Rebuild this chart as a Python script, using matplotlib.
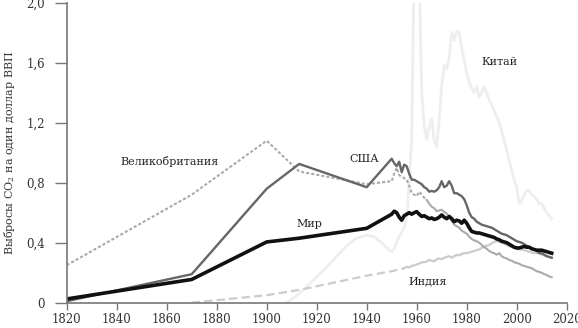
import matplotlib
matplotlib.use("Agg")
import matplotlib.pyplot as plt

plt.rcParams['font.family'] = ['DejaVu Serif']
plt.rcParams['mathtext.fontset'] = 'dejavuserif'
plt.rcParams['lines.scale_dashes'] = False

# ---- data ----
world_years = [1820, 1870, 1900, 1913, 1940] + list(range(1950, 2015))
world_vals = [0.025, 0.155, 0.405, 0.43, 0.496,
              0.59, 0.61, 0.60, 0.57, 0.55, 0.58, 0.59, 0.60, 0.59, 0.60,
              0.607, 0.59, 0.575, 0.58, 0.57, 0.56, 0.565, 0.555, 0.56, 0.57,
              0.585, 0.57, 0.56, 0.575, 0.56, 0.54, 0.55, 0.545, 0.53, 0.55,
              0.53, 0.50, 0.475, 0.47, 0.465, 0.465, 0.46, 0.455, 0.45, 0.445,
              0.44, 0.435, 0.425, 0.42, 0.41, 0.405, 0.40, 0.39, 0.38, 0.37,
              0.365, 0.365, 0.37, 0.375, 0.37, 0.37, 0.36, 0.355, 0.35, 0.35,
              0.35, 0.345, 0.34, 0.335, 0.33]

usa_years = [1820, 1870, 1900, 1913, 1940] + list(range(1950, 2015))
usa_vals = [0.01, 0.19, 0.76, 0.925, 0.77,
            0.96, 0.93, 0.91, 0.94, 0.87, 0.92, 0.91, 0.86, 0.82, 0.82,
            0.81, 0.80, 0.79, 0.77, 0.76, 0.74, 0.745, 0.74, 0.75, 0.77,
            0.81, 0.77, 0.78, 0.81, 0.78, 0.73, 0.73, 0.72, 0.71, 0.69,
            0.65, 0.60, 0.57, 0.56, 0.54, 0.53, 0.52, 0.515, 0.51, 0.505,
            0.50, 0.49, 0.48, 0.47, 0.46, 0.455, 0.45, 0.44, 0.43, 0.42,
            0.41, 0.405, 0.40, 0.39, 0.38, 0.37, 0.36, 0.355, 0.345, 0.33,
            0.33, 0.32, 0.31, 0.305, 0.30]

uk_est_years = [1820, 1870, 1900, 1913, 1940] + list(range(1950, 1965))
uk_est_vals = [0.25, 0.72, 1.08, 0.875, 0.79,
               0.81, 0.86, 0.90, 0.85, 0.84, 0.83, 0.82, 0.78, 0.73, 0.72,
               0.71, 0.74, 0.72, 0.70, 0.685]
uk_years = list(range(1964, 2015))
uk_vals = [0.685, 0.66, 0.64, 0.63, 0.61, 0.615, 0.62, 0.605, 0.595, 0.57,
           0.545, 0.52, 0.51, 0.50, 0.48, 0.47, 0.46, 0.44, 0.425, 0.415,
           0.41, 0.40, 0.385, 0.37, 0.36, 0.345, 0.335, 0.33, 0.32, 0.33,
           0.31, 0.30, 0.295, 0.285, 0.28, 0.27, 0.265, 0.26, 0.25, 0.245,
           0.24, 0.235, 0.23, 0.22, 0.21, 0.205, 0.20, 0.19, 0.185, 0.175,
           0.17]

india_est_years = [1870, 1900, 1913, 1940, 1950, 1955]
india_est_vals = [0.0, 0.05, 0.085, 0.18, 0.21, 0.23]
india_years = list(range(1955, 2015))
india_vals = [0.23, 0.24, 0.235, 0.245, 0.25, 0.255, 0.26, 0.27, 0.27, 0.275,
              0.285, 0.28, 0.275, 0.29, 0.295, 0.29, 0.30, 0.305, 0.31, 0.30,
              0.31, 0.32, 0.315, 0.325, 0.33, 0.33, 0.335, 0.34, 0.345, 0.35,
              0.355, 0.365, 0.375, 0.38, 0.385, 0.395, 0.405, 0.41, 0.405, 0.40,
              0.395, 0.385, 0.375, 0.37, 0.365, 0.36, 0.355, 0.355, 0.35, 0.345,
              0.34, 0.335, 0.33, 0.33, 0.33, 0.32, 0.315, 0.31, 0.305, 0.30]

china_years = [1908, 1913, 1918, 1923, 1928, 1932, 1936, 1940, 1943, 1946, 1949] + list(range(1950, 2015))
china_vals = [0.0, 0.06, 0.14, 0.22, 0.31, 0.38, 0.43, 0.45, 0.44, 0.40, 0.35,
              0.34, 0.36, 0.40, 0.44, 0.47, 0.50, 0.57, 0.80, 1.10, 2.30,
              2.50, 2.20, 1.40, 1.18, 1.09, 1.17, 1.23, 1.08, 1.04, 1.22,
              1.45, 1.58, 1.56, 1.63, 1.80, 1.75, 1.81, 1.80, 1.70, 1.62,
              1.53, 1.47, 1.43, 1.40, 1.44, 1.37, 1.40, 1.44, 1.40, 1.35,
              1.32, 1.28, 1.24, 1.20, 1.14, 1.08, 1.02, 0.95, 0.88, 0.82,
              0.77, 0.66, 0.68, 0.72, 0.75, 0.75, 0.72, 0.71, 0.69, 0.66,
              0.66, 0.63, 0.60, 0.58, 0.56]

x_ticks = [1820, 1840, 1860, 1880, 1900, 1920, 1940, 1960, 1980, 2000, 2020]
y_ticks = [0, 0.4, 0.8, 1.2, 1.6, 2.0]
y_ticklabels = ["0", "0,4", "0,8", "1,2", "1,6", "2,0"]
ylabel = "Выбросы CO$_2$ на один доллар ВВП"

labels = {"Великобритания": (1841.3, 0.94, 'left'),
          "США": (1939, 0.955, 'center'),
          "Мир": (1917, 0.525, 'center'),
          "Китай": (1993, 1.605, 'center'),
          "Индия": (1964.5, 0.145, 'center')}

# ---- plot ----
fig = plt.figure(figsize=(5.78, 3.28), dpi=100)
ax = fig.add_axes([66.7/578, 25.3/328, 500/578, 300/328])

ax.plot(china_years, china_vals, color='#eeeeee', lw=2.0, solid_joinstyle='round')
ax.plot(india_est_years, india_est_vals, color='#cccccc', lw=1.6, dashes=(6, 3))
ax.plot(india_years, india_vals, color='#cccccc', lw=1.6)
ax.plot(uk_est_years, uk_est_vals, color='#aaaaaa', lw=1.5, dashes=(2.2, 1.5))
ax.plot(uk_years, uk_vals, color='#aaaaaa', lw=1.5)
ax.plot(usa_years, usa_vals, color='#666666', lw=1.7)
ax.plot(world_years, world_vals, color='#111111', lw=2.6)

ax.set_xlim(1820, 2020)
ax.set_ylim(0, 2.0)
ax.set_xticks(x_ticks)
ax.set_yticks(y_ticks)
ax.set_yticklabels(y_ticklabels)

for s in ['top', 'right']:
    ax.spines[s].set_visible(False)
for s in ['left', 'bottom']:
    ax.spines[s].set_color('#777777')
    ax.spines[s].set_linewidth(1.2)
ax.tick_params(axis='y', length=8.5, width=1.0, color='#777777', pad=7,
               labelsize=8.5, labelcolor='#333333')
ax.tick_params(axis='x', length=5, width=1.0, color='#777777', pad=2.5,
               labelsize=8.5, labelcolor='#333333')
ax.set_ylabel(ylabel, fontsize=8, color='#333333', labelpad=7)

for txt, (x, y, ha) in labels.items():
    ax.text(x, y, txt, fontsize=8, color='#222222', ha=ha, va='center')

fig.savefig("out.png", dpi=100)
